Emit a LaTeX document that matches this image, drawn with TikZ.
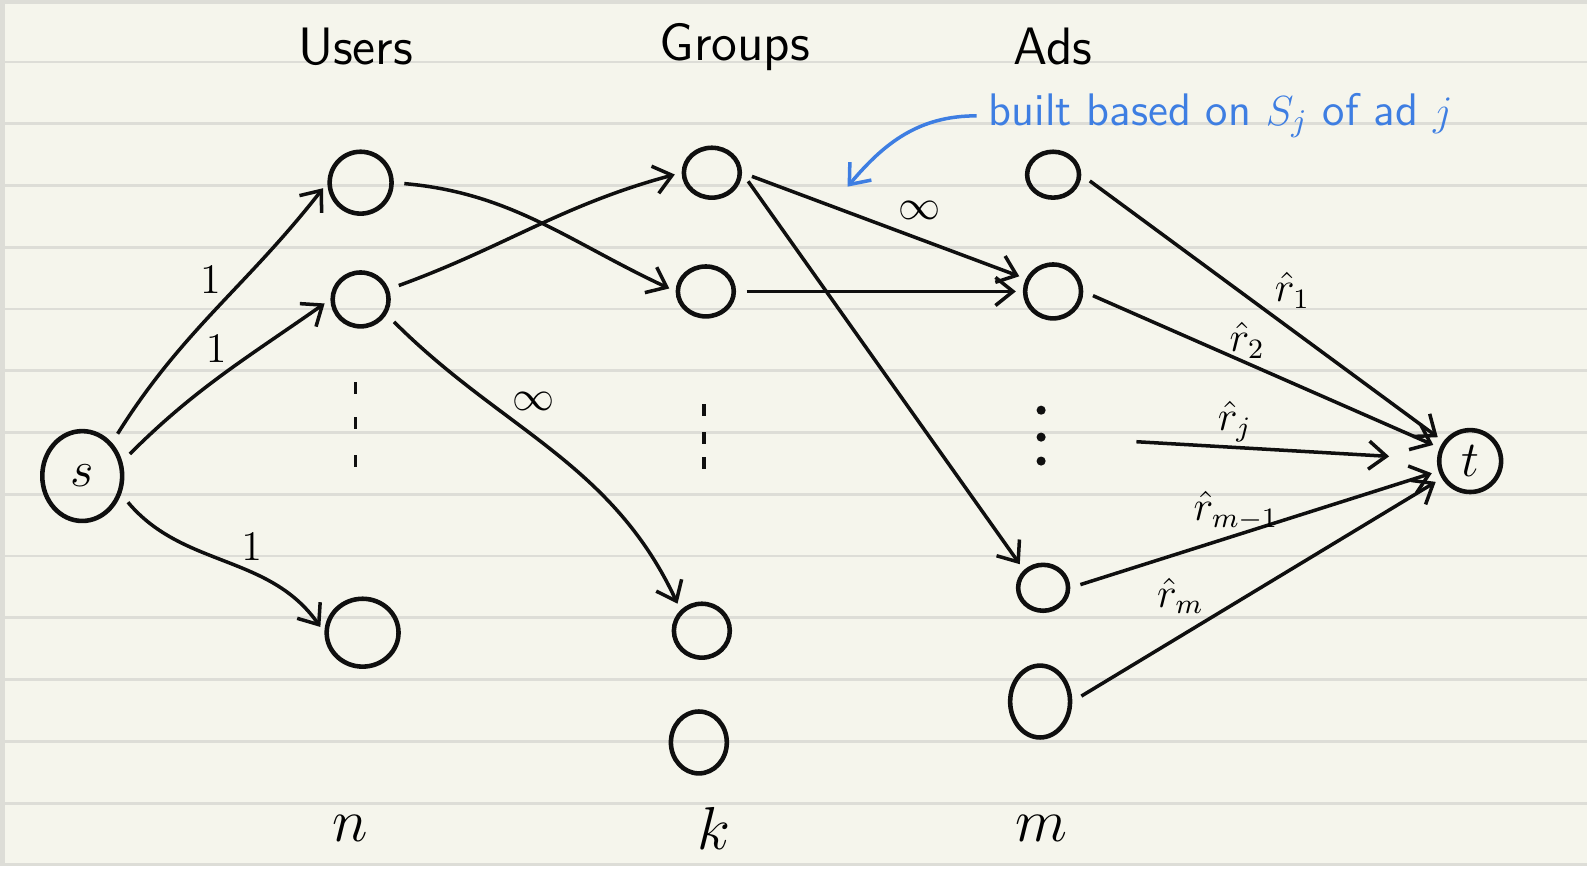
\documentclass[tikz,border=0pt]{standalone}
\usetikzlibrary{calc, shapes.geometric, arrows.meta}

\definecolor{paper}{RGB}{245,245,236}
\definecolor{rulecol}{RGB}{221,221,215}
\definecolor{pen}{RGB}{15,15,15}
\definecolor{ink}{RGB}{62,126,226}

\begin{document}
\begin{tikzpicture}[x=0.01cm, y=0.01cm,
    vtx/.style={draw=pen, ellipse, line width=1.3pt, inner sep=0pt, minimum width=0.56cm, minimum height=0.54cm},
    flow/.style={draw=pen, line width=1pt, -{Straight Barb[length=5pt, width=8pt]}, shorten <=3pt, shorten >=2pt},
    title/.style={font=\sffamily\fontsize{15}{18}\selectfont},
    wt/.style={font=\fontsize{12}{14}\selectfont, inner sep=1pt}]

    % Define parameters (line spacing of the ruled paper)
    \pgfmathsetmacro{\gap}{61.9}   % Distance between two rules
    \pgfmathsetmacro{\top}{806}    % Height of the first rule

    % --- 1. Ruled paper ---
    \fill[paper] (0,0) rectangle (1589,867);
    \foreach \i in {0,...,13}
        \draw[rulecol, line width=0.8pt] (0,{\top-\gap*\i}) -- (1589,{\top-\gap*\i});
    \draw[rulecol, line width=1.2pt] (1589,866) -- (1,866) -- (1,0);
    \useasboundingbox (0,0) rectangle (1589,867);

    % --- 2. Column titles and sizes ---
    \node[title] (users) at (355,821) {Users};
    \node[title] (groups) at (735,821) {Groups};
    \node[title] (ads) at (1054,821) {Ads};

    \node[wt, font=\fontsize{17}{19}\selectfont] (nsize) at (350,38) {$n$};
    \node[wt, font=\fontsize{17}{19}\selectfont] (ksize) at (714,38) {$k$};
    \node[wt, font=\fontsize{17}{19}\selectfont] (msize) at (1042,38) {$m$};

    % --- 3. Vertices ---
    \node[vtx, minimum width=0.8cm, minimum height=0.9cm, font=\fontsize{14}{16}\selectfont] (s) at (81,391) {$s$};

    \node[vtx, minimum width=0.62cm, minimum height=0.62cm] (u1) at (360,685) {};
    \node[vtx] (u2) at (360,568) {};
    \node[vtx, minimum width=0.72cm, minimum height=0.68cm] (u3) at (362,234) {};

    \node[vtx, minimum height=0.5cm] (g1) at (712,695) {};
    \node[vtx, minimum height=0.5cm] (g2) at (706,576) {};
    \node[vtx] (g3) at (702,236) {};
    \node[vtx, minimum height=0.62cm] (g4) at (699,124) {};

    \node[vtx, minimum width=0.52cm, minimum height=0.46cm] (a1) at (1054,693) {};
    \node[vtx] (a2) at (1054,576) {};
    \node[vtx, minimum width=0.5cm, minimum height=0.46cm] (a3) at (1044,279) {};
    \node[vtx, minimum width=0.6cm, minimum height=0.72cm] (a4) at (1041,165) {};

    \node[vtx, minimum width=0.62cm, minimum height=0.62cm, font=\fontsize{14}{16}\selectfont] (t) at (1472,406) {$t$};

    % dots between the vertices
    \foreach \x/\y in {355/479, 355/444, 355/406, 704/457, 704/429, 704/404}
        \draw[pen, line width=1pt] (\x,\y+6) -- (\x,\y-6);
    \foreach \y in {457,430,406}
        \fill[pen] (1042,\y) circle (1.3pt);
    \coordinate (rj) at (1127,426);   % Start of the r_j edge

    % --- 4. Source to users ---
    \draw[flow] (s.north east) to[out=58, in=232] node[wt, pos=0.55, above left] {$1$} (u1.west);
    \draw[flow] (s.20) to[out=45, in=215] node[wt, pos=0.55, above left] {$1$} (u2.west);
    \draw[flow] (s.-25) to[out=-50, in=125] node[wt, pos=0.55, above right] {$1$} (u3.west);

    % --- 5. Users to groups ---
    \draw[flow] (u1.east) to[out=-5, in=155] (g2.west);
    \draw[flow] (u2.20) to[out=20, in=195] (g1.west);
    \draw[flow] (u2.-30) to[out=-45, in=115] node[wt, pos=0.36, above right] {$\infty$} (g3.north west);

    % --- 6. Groups to ads ---
    \draw[flow] (g1.east) -- node[wt, pos=0.52, above right=1pt] {$\infty$} (a2.155);
    \draw[flow] (g1.east) -- (a3.north west);
    \draw[flow] (g2.east) -- (a2.west);

    % --- 7. Ads to sink ---
    \draw[flow] (a1.east) -- node[wt, pos=0.52, above right] {$\hat r_1$} (t);
    \draw[flow] (a2.east) -- node[wt, pos=0.46, above] {$\hat r_2$} (t);
    \draw[flow, shorten >=0.48cm] (rj) -- node[wt, pos=0.35, above] {$\hat r_j$} (t);
    \draw[flow] (a3.east) -- node[wt, pos=0.45, above] {$\hat r_{m-1}$} (t);
    \draw[flow] (a4.east) -- node[wt, pos=0.37, above left] {$\hat r_m$} (t);

    % --- 8. Note on the group-ad edges ---
    \node[ink, font=\sffamily\fontsize{13}{15}\selectfont] (note) at (1222,752) {built based on $S_j$ of ad $j$};
    \coordinate (hint) at (848,681);
    \draw[ink, line width=1pt, -{Straight Barb[length=5pt, width=8pt]}] (note.west) to[out=180, in=50] (hint);

\end{tikzpicture}
\end{document}
